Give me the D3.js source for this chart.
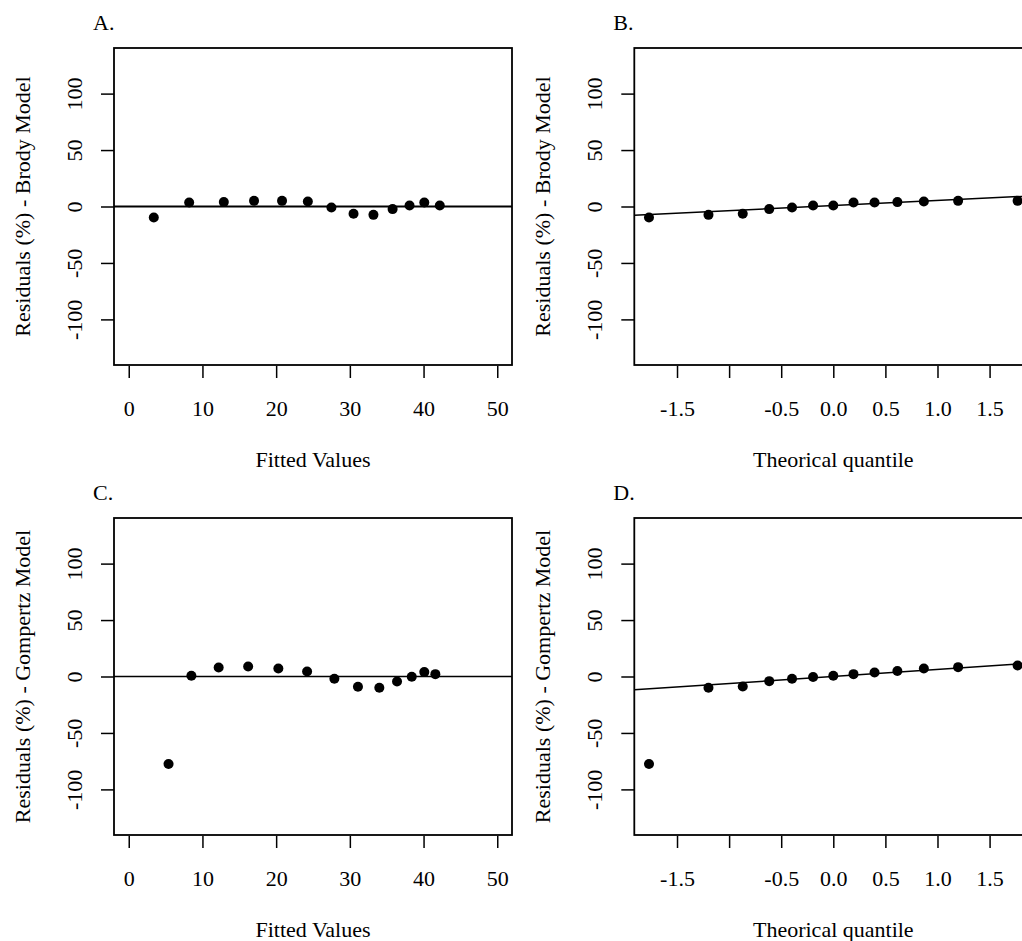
<!DOCTYPE html>
<html>
<head>
<meta charset="utf-8">
<script src="https://cdn.jsdelivr.net/npm/d3@7"></script>
<style>
  body { margin: 0; background: #fff; }
  svg { display: block; overflow: hidden; }
  text { font-family: "Liberation Serif", "Times New Roman", serif; font-size: 22px; fill: #000; }
</style>
</head>
<body>
<section></section>
<script>
// Brody model residuals vs fitted values
const brodyFitted = [3.4, 8.2, 12.9, 17.0, 20.8, 24.3, 27.5, 30.5, 33.2, 35.8, 38.1, 40.1, 42.2];
const brodyResid  = [-9.8, 3.6, 3.9, 5.0, 5.0, 4.4, -0.9, -6.5, -7.4, -2.3, 0.9, 3.6, 0.9];

// Gompertz model residuals vs fitted values
const gompFitted = [5.4, 8.5, 12.2, 16.2, 20.3, 24.2, 27.9, 31.1, 34.0, 36.4, 38.4, 40.1, 41.6];
const gompResid  = [-77.5, 0.6, 8.0, 8.9, 7.1, 4.4, -2.0, -9.1, -10.0, -4.4, -0.3, 3.9, 2.1];

// normal QQ plots (theoretical quantiles for n = 13, sorted residuals)
const theoQuant = [-1.769, -1.198, -0.869, -0.615, -0.396, -0.194, 0, 0.194, 0.396, 0.615, 0.869, 1.198, 1.769];
const brodySorted = [-9.8, -7.4, -6.5, -2.3, -0.9, 0.9, 0.9, 3.6, 3.6, 3.9, 4.4, 5.0, 5.0];
const gompSorted  = [-77.5, -10.0, -8.9, -4.1, -2.0, -0.5, 0.6, 2.1, 3.5, 4.8, 7.1, 8.3, 9.8];

// qqline (intercept, slope)
const brodyQQLine = [0.8, 4.5];
const gompQQLine  = [0.0, 6.2];

// ticks
const fittedTicks = [0, 10, 20, 30, 40, 50];
const quantTicks = [-1.5, -1, -0.5, 0, 0.5, 1, 1.5];
const quantTickLabels = ["-1.5", "", "-0.5", "0.0", "0.5", "1.0", "1.5"];
const residTicks = [-100, -50, 0, 50, 100];

const WIDTH = 1022;
const HEIGHT = 941;

const svg = d3.select("section")
  .append("svg")
  .attr("width", WIDTH)
  .attr("height", HEIGHT);

// one panel of the 2x2 layout
const drawPanel = (opt) => {
  const left = opt.left, top = opt.top;
  const w = 398, h = 317;
  const g = svg.append("g").attr("transform", "translate(" + left + "," + top + ")");

  const xScale = d3.scaleLinear().domain(opt.xDomain).range([0, w]);
  const yScale = d3.scaleLinear().domain([-140.4, 140.4]).range([h, 0]);

  // panel letter
  g.append("text")
    .attr("x", -21)
    .attr("y", -18)
    .text(opt.letter);

  // reference line (h=0 or qqline), clipped to the plot box
  const clipId = "clip" + opt.letter.replace(".", "");
  g.append("clipPath").attr("id", clipId)
    .append("rect").attr("width", w).attr("height", h);

  if (opt.qqLine) {
    const [a, b] = opt.qqLine;
    g.append("line")
      .attr("clip-path", "url(#" + clipId + ")")
      .attr("x1", 0).attr("x2", w)
      .attr("y1", yScale(a + b * opt.xDomain[0]))
      .attr("y2", yScale(a + b * opt.xDomain[1]))
      .attr("stroke", "#000")
      .attr("stroke-width", 1.5);
  } else {
    g.append("line")
      .attr("x1", 0).attr("x2", w)
      .attr("y1", yScale(0)).attr("y2", yScale(0))
      .attr("stroke", "#000")
      .attr("stroke-width", opt.zeroWidth);
  }

  // points
  g.selectAll("circle")
    .data(opt.x.map((d, i) => [d, opt.y[i]]))
    .enter()
    .append("circle")
    .attr("cx", d => xScale(d[0]))
    .attr("cy", d => yScale(d[1]))
    .attr("r", 5)
    .attr("fill", "#000");

  // box
  g.append("rect")
    .attr("width", w).attr("height", h)
    .attr("fill", "none")
    .attr("stroke", "#000")
    .attr("stroke-width", 1.8);

  // x axis
  const xAxis = d3.axisBottom(xScale)
    .tickValues(opt.xTicks)
    .tickSize(12)
    .tickFormat((d, i) => opt.xLabels[i]);

  const gx = g.append("g")
    .attr("transform", "translate(0," + (h + 1) + ")")
    .call(xAxis);
  gx.select(".domain").remove();
  gx.selectAll("line").attr("stroke-width", 1.5);
  gx.selectAll("text")
    .attr("y", 50)
    .attr("dy", null);

  // y axis (plain hyphen for negatives, as in the original)
  const yAxis = d3.axisLeft(yScale)
    .tickValues(residTicks)
    .tickSize(13)
    .tickFormat(d => String(d));

  const gy = g.append("g").call(yAxis);
  gy.select(".domain").remove();
  gy.selectAll("line").attr("stroke-width", 1.5);
  gy.selectAll("text")
    .attr("x", null)
    .attr("dy", null)
    .attr("transform", "translate(-32,0) rotate(-90)")
    .attr("text-anchor", "middle");
  gx.attr("font-family", null).attr("font-size", null);
  gy.attr("font-family", null).attr("font-size", null);

  // axis titles
  g.append("text")
    .attr("x", w / 2)
    .attr("y", h + 102)
    .attr("text-anchor", "middle")
    .text(opt.xTitle);

  g.append("text")
    .attr("transform", "translate(-84," + (h / 2) + ") rotate(-90)")
    .attr("text-anchor", "middle")
    .text(opt.yTitle);
};

const fitLabels = fittedTicks.map(String);

drawPanel({ letter: "A.", left: 114, top: 48, x: brodyFitted, y: brodyResid,
  xDomain: [-2, 52], xTicks: fittedTicks, xLabels: fitLabels, zeroWidth: 2,
  xTitle: "Fitted Values", yTitle: "Residuals (%) - Brody Model" });

drawPanel({ letter: "B.", left: 634.3, top: 48, x: theoQuant, y: brodySorted,
  xDomain: [-1.91, 1.91], xTicks: quantTicks, xLabels: quantTickLabels, qqLine: brodyQQLine,
  xTitle: "Theorical quantile", yTitle: "Residuals (%) - Brody Model" });

drawPanel({ letter: "C.", left: 114, top: 518, x: gompFitted, y: gompResid,
  xDomain: [-2, 52], xTicks: fittedTicks, xLabels: fitLabels, zeroWidth: 1.3,
  xTitle: "Fitted Values", yTitle: "Residuals (%) - Gompertz Model" });

drawPanel({ letter: "D.", left: 634.3, top: 518, x: theoQuant, y: gompSorted,
  xDomain: [-1.91, 1.91], xTicks: quantTicks, xLabels: quantTickLabels, qqLine: gompQQLine,
  xTitle: "Theorical quantile", yTitle: "Residuals (%) - Gompertz Model" });
</script>
</body>
</html>
